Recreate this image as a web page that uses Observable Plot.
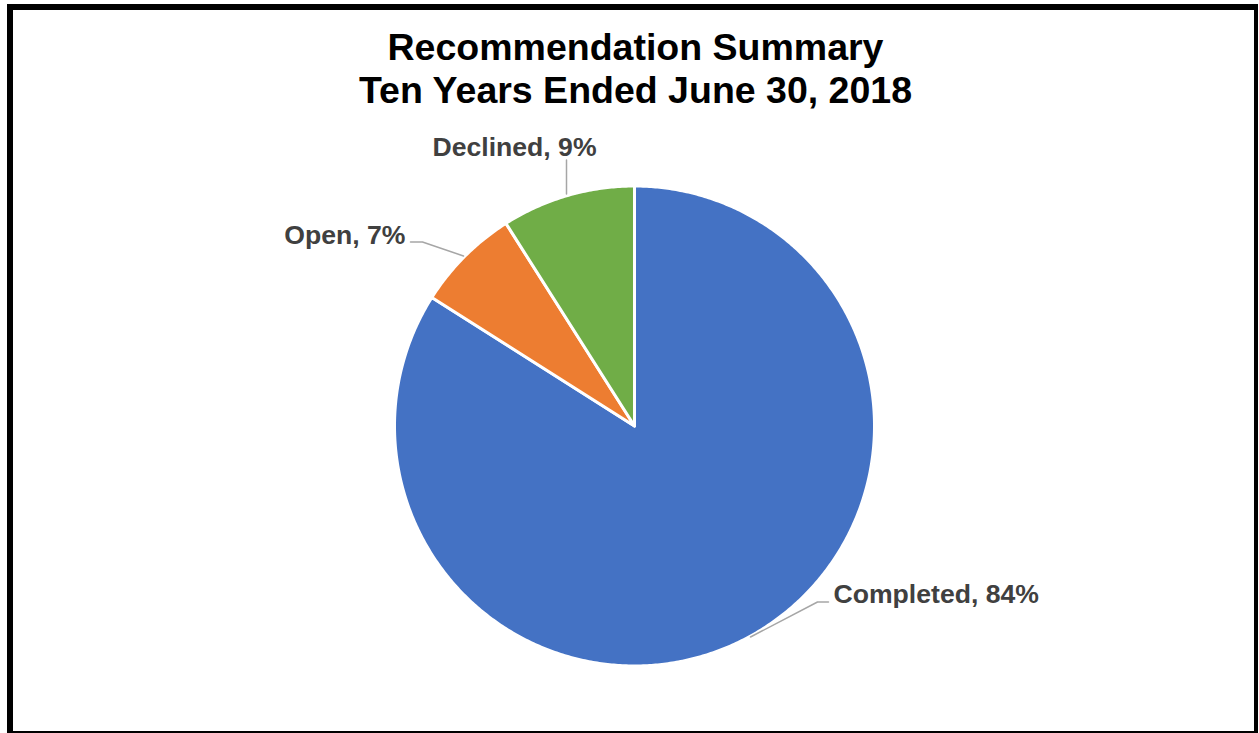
<!DOCTYPE html>
<html>
<head>
<meta charset="utf-8">
<script src="https://cdn.jsdelivr.net/npm/d3@7"></script>
<script src="https://cdn.jsdelivr.net/npm/@observablehq/plot@0.6"></script>
<style>
  html, body { margin: 0; padding: 0; background: #fff; }
  #wrap { position: relative; width: 1259px; height: 733px; overflow: hidden; }
  #frame { position: absolute; left: 7px; top: 4px; width: 1251px; height: 729px; box-sizing: border-box;
           border-top: 6px solid #000; border-left: 6px solid #000; border-right: 4px solid #000; border-bottom: 2px solid #000;
           pointer-events: none; z-index: 2; }
  #chart { position: absolute; left: 0; top: 0; }
</style>
</head>
<body>
<div id="wrap"><div id="chart"></div><div id="frame"></div></div>
<script>
const categories = ["Completed", "Open", "Declined"];
const values = [84, 7, 9];
const titleLines = ["Recommendation Summary", "Ten Years Ended June 30, 2018"];
const palette = ["#4472C4", "#ED7D31", "#70AD47"];

// layout constants (pixel units, centred on the pie, y up)
const R = 240;
const labelPos = {
  Completed: {x: 199, y: -168, anchor: "start"},
  Open: {x: -229, y: 191, anchor: "end"},
  Declined: {x: -120, y: 279, anchor: "middle"}
};
const leaders = {
  Completed: [[194, -176], [183, -176], [116, -211]],
  Open: [[-224, 184], [-212, 184], [-171, 170]],
  Declined: [[-68, 266], [-68, 232]]
};

const data = categories.map((name, i) => ({name, value: values[i]}));
const arcs = d3.pie().sort(null).value(d => d.value).startAngle(0).endAngle(2 * Math.PI)(data);

const piePts = [];
for (const a of arcs) {
  piePts.push({name: a.data.name, x: 0, y: 0});
  const n = Math.max(2, Math.ceil((a.endAngle - a.startAngle) / (Math.PI / 360)));
  for (let k = 0; k <= n; k++) {
    const t = a.startAngle + (a.endAngle - a.startAngle) * k / n;
    piePts.push({name: a.data.name, x: R * Math.sin(t), y: R * Math.cos(t)});
  }
}

const leaderPts = [];
for (const d of data) for (const [x, y] of leaders[d.name]) leaderPts.push({name: d.name, x, y});

const labels = data.map(d => ({
  text: `${d.name}, ${d.value}%`,
  x: labelPos[d.name].x, y: labelPos[d.name].y, anchor: labelPos[d.name].anchor
}));

const titles = titleLines.map((t, i) => ({text: t, x: 1, y: 426 - (47 + i * 43) - 1}));

const labelStyle = {fill: "#404040", fontSize: 26.6, fontWeight: "bold"};

const plot = Plot.plot({
  width: 1259, height: 733, margin: 0,
  x: {domain: [-634, 625], axis: null},
  y: {domain: [-307.5, 425.5], axis: null},
  color: {domain: categories, range: palette},
  style: {fontFamily: "'Liberation Sans', Arial, sans-serif", background: "transparent"},
  marks: [
    Plot.line(piePts, {x: "x", y: "y", z: "name", fill: "name", stroke: "#fff", strokeWidth: 3,
      strokeLinejoin: "round", curve: "linear-closed"}),
    Plot.line(leaderPts, {x: "x", y: "y", z: "name", stroke: "#A6A6A6", strokeWidth: 1.5}),
    Plot.text(labels.filter(d => d.anchor === "start"), {x: "x", y: "y", text: "text", textAnchor: "start", ...labelStyle}),
    Plot.text(labels.filter(d => d.anchor === "end"), {x: "x", y: "y", text: "text", textAnchor: "end", ...labelStyle}),
    Plot.text(labels.filter(d => d.anchor === "middle"), {x: "x", y: "y", text: "text", textAnchor: "middle", ...labelStyle}),
    Plot.text(titles, {x: "x", y: "y", text: "text", fill: "#000", fontSize: 37.5, fontWeight: "bold"})
  ]
});
document.getElementById("chart").appendChild(plot);
</script>
</body>
</html>
